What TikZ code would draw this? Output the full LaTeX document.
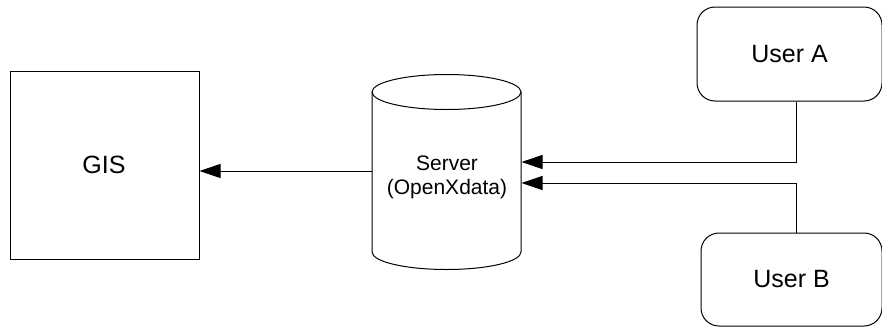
\documentclass[tikz,border=0pt]{standalone}
\usepackage{fontspec}
\setmainfont{Liberation Sans}
\usetikzlibrary{arrows.meta}
\begin{document}
\begin{tikzpicture}[x=1pt,y=-1pt,
  line width=1pt,
  box/.style={draw, inner sep=0pt, font=\fontsize{25}{30}\selectfont},
  userbox/.style={box, rounded corners=18pt},
  link/.style={-{Triangle[length=21pt,width=14pt]}}
]
\useasboundingbox (0,0) rectangle (882,327);

% GIS block
\node[box, minimum width=189pt, minimum height=188pt] (gis) at (104.5,165) {};
\node[font=\fontsize{25}{30}\selectfont] (gislbl) at (104,165) {GIS};

% server drum
\node[inner sep=0pt, minimum width=149pt, minimum height=194pt] (srv) at (446.5,172) {};
\draw (446.5,92) ellipse [x radius=74.5pt, y radius=17.5pt];
\draw (372,92) -- (372,252) arc[start angle=180, end angle=360, x radius=74.5pt, y radius=17.5pt] -- (521,92);
\node[align=center, font=\fontsize{21}{24}\selectfont] (srvlbl) at (447,177) {Server\\(OpenXdata)};

% users
\node[userbox, minimum width=185pt, minimum height=94pt] (ua) at (789.5,54) {User A};
\node[userbox, minimum width=181pt, minimum height=93pt] (ub) at (791.5,279.5) {User B};

% connectors
\draw[link] (srv.west |- 0,171) -- (gis.east |- 0,171);
\draw[link] (ua.south -| 796,0) |- (srv.east |- 0,162);
\draw[link] (ub.north -| 796,0) |- (srv.east |- 0,183);
\end{tikzpicture}
\end{document}
